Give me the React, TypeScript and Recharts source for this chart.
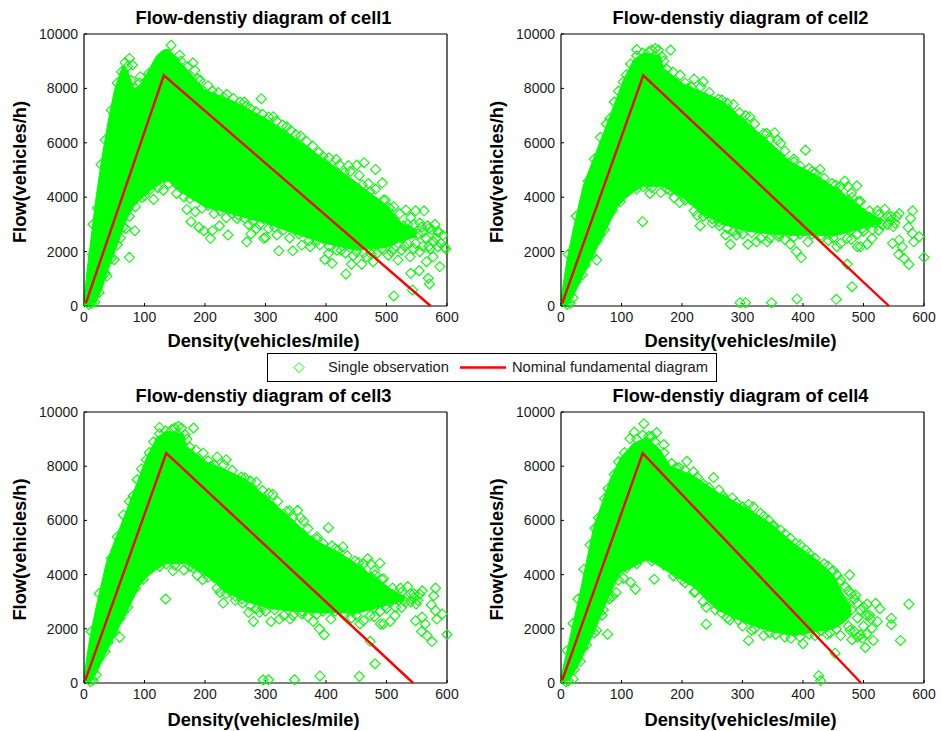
import React from "react";
import {
  ComposedChart,
  Area,
  Line,
  Scatter,
  XAxis,
  YAxis,
} from "recharts";

const xTicks = [0, 100, 200, 300, 400, 500, 600];
const yTicks = [0, 2000, 4000, 6000, 8000, 10000];

// solid part of the cloud, where the diamonds overlap completely
const cell1CoreX = [0, 5, 10, 20, 30, 40, 50, 60, 66, 72, 82, 90, 100, 110, 120, 130, 140, 150, 170, 200, 250, 300, 350, 400, 450, 500, 525, 550];
const cell1CoreHi = [200, 1300, 2200, 4000, 5500, 6800, 7900, 8600, 8850, 8650, 8000, 8050, 8400, 8800, 9200, 9400, 9450, 9200, 8700, 7950, 7500, 6900, 6150, 5350, 4550, 3700, 3050, 2800];
const cell1CoreLo = [0, 0, 0, 150, 650, 1350, 1950, 2550, 2950, 3250, 3650, 3850, 4050, 4250, 4400, 4550, 4600, 4350, 4050, 3650, 3350, 3050, 2650, 2300, 2050, 2150, 2400, 2550];

const cell2CoreX = [0, 5, 10, 20, 37, 70, 92, 103, 120, 136, 164, 169, 203, 236, 269, 307, 346, 379, 423, 456, 490, 510, 530];
const cell2CoreHi = [200, 1000, 1700, 2800, 4450, 6350, 7650, 8300, 9050, 9300, 9200, 8750, 8150, 7850, 7500, 6750, 6000, 5300, 4800, 4300, 3750, 3400, 3200];
const cell2CoreLo = [0, 0, 0, 350, 1150, 2600, 3600, 3900, 4200, 4400, 4400, 4400, 3950, 3350, 3000, 2750, 2650, 2600, 2600, 2600, 2800, 2950, 3050];

const cell4CoreX = [0, 5, 15, 31, 54, 81, 98, 120, 142, 164, 181, 219, 258, 307, 346, 385, 423, 451, 468, 480];
const cell4CoreHi = [200, 700, 1700, 3300, 5750, 7500, 8300, 8850, 9050, 8600, 8000, 7650, 7050, 6450, 5900, 5150, 4550, 3950, 3200, 2800];
const cell4CoreLo = [0, 0, 150, 750, 1850, 3300, 4050, 4300, 4550, 4300, 4050, 3550, 2700, 2200, 1900, 1750, 1900, 2000, 2250, 2500];

// single observations [density, flow] around the edge of the cloud
const cell1Obs: [number, number][] = [
  [75, 1790], [84, 2770], [38, 1100], [69, 2850], [512, 370], [543, 590], [569, 1020], [571, 810],
  [588, 1450], [596, 2160], [585, 2180], [433, 1180], [540, 1200], [554, 1300], [459, 1540], [442, 1540],
  [410, 1570], [398, 1710], [404, 1935], [345, 2030], [322, 2030], [269, 2360], [276, 2650], [238, 2610],
  [209, 2490], [224, 2950], [212, 2770], [198, 2760], [190, 2890], [177, 3100], [170, 3550], [184, 3470],
  [297, 2490], [300, 2520], [293, 7620], [482, 5020], [493, 4530], [463, 5270], [451, 5180], [437, 5160],
  [417, 5390], [378, 5880], [335, 6590], [313, 6960], [275, 7260], [247, 7630], [236, 7780], [212, 7910],
  [192, 8300], [180, 8940], [183, 8670], [158, 9220], [144, 9590], [75, 9100], [80, 8860], [62, 8610],
  [93, 8430], [107, 8550], [532, 3530], [548, 3500], [562, 3500], [495, 3900], [473, 4200], [115, 3920],
  [96, 3990], [131, 4260], [140, 4500], [153, 4140], [165, 4020], [253, 3220], [266, 3220], [280, 3100],
  [319, 2610], [360, 2240], [374, 2180], [467, 1810], [478, 1630], [503, 1870], [519, 1690], [539, 1810],
  [566, 1630], [577, 1810], [510, 3100], [518, 2800], [525, 2500], [530, 2200], [535, 3000], [542, 2700],
  [548, 2300], [555, 2000], [558, 2900], [565, 2500], [570, 2200], [575, 2800], [582, 2500], [590, 2300],
  [593, 2600], [598, 2100], [505, 2400], [512, 2100], [528, 2950], [552, 2650], [578, 2350], [586, 2700],
  [205, 3700], [225, 3500], [245, 3400], [290, 3000], [330, 2800], [385, 2400], [425, 2050], [450, 2000],
  [485, 1950], [265, 7500], [295, 7050], [350, 6300], [395, 5500], [430, 4900], [460, 4450], [505, 3600],
  [50, 1700], [60, 2500], [25, 500], [18, 150], [12, 100], [8, 60], [22, 3600], [14, 1900],
  [160, 9000], [172, 8800], [188, 8350], [205, 8100], [222, 7850], [232, 7650], [258, 7500], [268, 7350],
  [284, 7150], [305, 6950], [318, 6800], [328, 6650], [342, 6450], [358, 6250], [368, 6050], [388, 5650],
  [405, 5450], [422, 5200], [440, 4950], [455, 4800], [470, 4500], [482, 4300], [498, 3900], [512, 3650],
  [522, 3400], [540, 3250], [555, 3050], [570, 2850], [585, 2750], [15, 3000], [28, 5200], [35, 6100],
  [45, 7200], [55, 8200], [68, 8950], [72, 8800], [78, 8300], [85, 8000], [92, 8200], [35, 1200],
  [45, 1750], [55, 2250], [65, 2900], [75, 3300], [85, 3650], [100, 4050], [110, 4300], [122, 4350],
  [160, 4350], [175, 3950], [195, 3600], [215, 3400], [235, 3250], [255, 3350], [272, 3000], [285, 2850],
  [305, 2850], [315, 2900], [340, 2500], [355, 2650], [372, 2400], [390, 2250], [405, 2200], [418, 2050],
  [432, 1950], [445, 1850], [462, 1950], [475, 1900], [492, 2100], [508, 2000], [525, 2050], [535, 2300],
  [545, 2100], [560, 2200], [572, 2100], [520, 2700], [545, 3000], [560, 2700], [568, 2950], [580, 3000],
];

const cell2Obs: [number, number][] = [
  [135, 3100], [59, 1690], [65, 2610], [40, 1500], [296, 120], [305, 120], [348, 120], [390, 260],
  [455, 245], [481, 710], [473, 1540], [600, 1790], [575, 1530], [567, 1750], [558, 1900], [564, 2180],
  [583, 2360], [592, 2550], [581, 2670], [581, 3500], [578, 3220], [574, 2890], [548, 2300], [559, 2430],
  [535, 3560], [523, 3500], [559, 3400], [555, 3280], [531, 2980], [549, 2920], [506, 2270], [490, 2180],
  [495, 2180], [514, 2490], [498, 2850], [525, 2790], [509, 3280], [492, 3830], [489, 4420], [474, 4390],
  [469, 4590], [454, 4450], [456, 4200], [481, 3990], [456, 2180], [473, 2490], [445, 2670], [397, 1780],
  [389, 2000], [408, 2360], [379, 2270], [341, 2360], [323, 2360], [309, 2270], [280, 2270], [272, 2610],
  [290, 2610], [230, 2950], [225, 3340], [241, 3400], [261, 3100], [196, 3810], [187, 3980], [165, 4170],
  [147, 4140], [180, 4260], [136, 4390], [119, 4410], [98, 3830], [80, 3400], [181, 9410], [125, 9430],
  [150, 9410], [161, 9410], [156, 9470], [167, 9160], [197, 8490], [220, 8340], [235, 8240], [231, 8060],
  [266, 7570], [285, 7410], [312, 6960], [335, 6340], [353, 6370], [363, 5980], [404, 5730], [410, 5060],
  [428, 5020], [376, 5240], [103, 8240], [81, 6900], [500, 3400], [515, 3100], [505, 3000], [540, 3300],
  [545, 3150], [520, 3050], [485, 3300], [470, 3600], [440, 4300], [465, 3050], [480, 2800], [455, 2800],
  [175, 8700], [210, 8000], [255, 7400], [300, 6750], [345, 6100], [385, 5300], [420, 4900], [475, 3900],
  [215, 3900], [250, 3200], [295, 2800], [360, 2650], [430, 2600], [20, 300], [15, 100], [10, 60],
  [115, 8900], [125, 9200], [135, 9300], [145, 9350], [170, 9000], [185, 8600], [205, 8200], [215, 8050],
  [245, 7850], [260, 7600], [275, 7450], [295, 7100], [305, 7000], [320, 6700], [340, 6350], [358, 6100],
  [370, 5700], [385, 5400], [395, 5150], [415, 4950], [435, 4700], [448, 4500], [462, 4400], [480, 4150],
  [495, 3850], [510, 3500], [525, 3350], [545, 3300], [12, 1900], [25, 3300], [45, 4600], [55, 5400],
  [65, 6200], [75, 6700], [88, 7500], [95, 7900], [108, 8500], [25, 900], [35, 1150], [50, 1900],
  [60, 2400], [72, 2800], [85, 3500], [95, 3900], [108, 4250], [125, 4300], [150, 4350], [175, 4300],
  [205, 3900], [220, 3500], [235, 3300], [250, 3050], [262, 2950], [275, 2850], [285, 2750], [300, 2650],
  [315, 2700], [330, 2500], [345, 2500], [360, 2550], [370, 2450], [385, 2550], [395, 2650], [415, 2650],
  [430, 2500], [442, 2400], [450, 2500], [462, 2300], [480, 2450], [490, 2650], [500, 2750], [515, 2800],
  [528, 3050], [540, 3000], [552, 3050],
];

const cell4Obs: [number, number][] = [
  [575, 2910], [546, 2390], [546, 2150], [561, 1570], [516, 1570], [503, 1310], [523, 2270], [514, 2020],
  [527, 2740], [520, 2940], [506, 2910], [512, 2370], [495, 1780], [481, 1600], [487, 3250], [477, 3990],
  [426, 270], [429, 90], [453, 1100], [400, 1450], [310, 1570], [240, 2170], [279, 2330], [293, 2330],
  [261, 2910], [222, 3370], [211, 3860], [186, 3950], [154, 3830], [123, 3460], [115, 3720], [103, 3870],
  [91, 3340], [78, 3190], [77, 1800], [59, 1940], [48, 1930], [441, 4320], [456, 3990], [410, 4790],
  [379, 5340], [363, 5640], [310, 6590], [330, 6260], [343, 6010], [283, 6830], [252, 7580], [261, 7120],
  [208, 8180], [219, 7790], [183, 8100], [158, 9240], [137, 9570], [121, 9260], [114, 9020], [95, 8160],
  [78, 7180], [56, 5710], [470, 3000], [480, 2700], [490, 2400], [500, 2100], [475, 2100], [485, 1900],
  [465, 2400], [455, 2000], [440, 1800], [420, 1750], [395, 1700], [370, 1700], [345, 1850], [320, 2000],
  [495, 2700], [505, 2500], [470, 3550], [460, 3700], [490, 2950], [450, 4150], [395, 5100], [350, 5800],
  [300, 6500], [270, 6800], [235, 7350], [195, 7950], [170, 8800], [150, 9100], [20, 150], [12, 80],
  [8, 50], [25, 900], [36, 1300], [70, 2700], [85, 3200], [200, 3800], [235, 3000], [265, 2600],
  [125, 9000], [135, 9150], [145, 9100], [155, 8900], [170, 8500], [190, 7950], [205, 7850], [225, 7600],
  [245, 7200], [268, 6900], [290, 6650], [318, 6500], [335, 6150], [352, 5800], [370, 5500], [388, 5150],
  [405, 4900], [420, 4600], [435, 4400], [448, 4100], [462, 3800], [475, 3400], [485, 3100], [500, 2800],
  [10, 1200], [20, 2200], [28, 3100], [38, 4200], [48, 5100], [62, 6100], [72, 6800], [88, 7700],
  [105, 8500], [22, 500], [32, 800], [42, 1400], [55, 1850], [68, 2500], [80, 3100], [95, 3800],
  [108, 4250], [125, 4400], [150, 4500], [170, 4350], [190, 4050], [205, 3700], [220, 3350], [240, 2800],
  [255, 2700], [275, 2400], [300, 2100], [315, 1950], [335, 1750], [355, 1800], [380, 1650], [410, 1800],
  [430, 1950], [445, 1850], [462, 1750], [478, 1950], [490, 1700], [498, 1650], [505, 1800], [510, 2500],
  [480, 3300],
];

const cell1LineX = [3, 132, 573];
const cell1LineY = [100, 8480, 0];
const cell2LineX = [2, 136, 542];
const cell2LineY = [100, 8480, 0];
const cell3LineX = [2, 136, 544];
const cell3LineY = [100, 8480, 0];
const cell4LineX = [2, 135, 496];
const cell4LineY = [100, 8480, 0];

const GREEN = "#00ff00";
const RED = "#ff0000";
const FONT = "'Liberation Sans', Arial, sans-serif";

function DiamondMark(props: any) {
  const { cx, cy } = props;
  return (
    <path
      d={`M${cx - 5} ${cy}L${cx} ${cy - 5}L${cx + 5} ${cy}L${cx} ${cy + 5}Z`}
      fill="none"
      stroke={GREEN}
      strokeWidth={1.1}
    />
  );
}

type PanelProps = {
  title: string;
  coreX: number[];
  coreHi: number[];
  coreLo: number[];
  obs: [number, number][];
  lineX: number[];
  lineY: number[];
  left: number;
  top: number;
  width: number;
  height: number;
  plot: { l: number; r: number; t: number; b: number };
};

function Panel({ title, coreX, coreHi, coreLo, obs, lineX, lineY, left, top, width, height, plot }: PanelProps) {
  const coreRows = coreX.map((x, i) => ({ x, band: [coreLo[i], coreHi[i]] }));
  const obsRows = obs.map(([x, y]) => ({ x, y }));
  const lineRows = lineX.map((x, i) => ({ x, y: lineY[i] }));

  const axisLine = { stroke: "#000", strokeWidth: 1.2 };
  const tickLine = { stroke: "#000", strokeWidth: 1 };
  const tickFont = { fontSize: 14, fill: "#1a1a1a", fontFamily: FONT };
  const labelFont = { fontSize: 18.3, fontWeight: 700, fill: "#000", fontFamily: FONT };

  return (
    <div style={{ position: "absolute", left, top }}>
      <ComposedChart width={width} height={height} margin={{ top: 0, right: 0, bottom: 0, left: 0 }}>
        <XAxis
          dataKey="x"
          type="number"
          domain={[0, 600]}
          ticks={xTicks}
          height={plot.b}
          interval={0}
          tickSize={-3}
          tickMargin={9}
          axisLine={axisLine}
          tickLine={tickLine}
          tick={tickFont}
          label={{ value: "Density(vehicles/mile)", position: "insideBottom", offset: 5, dx: -2, ...labelFont }}
        />
        <XAxis
          xAxisId="top"
          orientation="top"
          dataKey="x"
          type="number"
          domain={[0, 600]}
          ticks={xTicks}
          height={plot.t}
          interval={0}
          tickSize={-3}
          axisLine={axisLine}
          tickLine={tickLine}
          tick={false}
          label={{ value: title, position: "insideBottom", offset: 10.5, dx: -2, ...labelFont }}
        />
        <YAxis
          type="number"
          domain={[0, 10000]}
          ticks={yTicks}
          width={plot.l}
          interval={0}
          tickSize={-3}
          tickMargin={9}
          axisLine={axisLine}
          tickLine={tickLine}
          tick={tickFont}
          label={{ value: "Flow(vehicles/h)", angle: -90, position: "insideLeft", offset: plot.l - 64, dy: 2, style: { textAnchor: "middle" }, ...labelFont }}
        />
        <YAxis
          yAxisId="right"
          orientation="right"
          type="number"
          domain={[0, 10000]}
          ticks={yTicks}
          width={plot.r}
          interval={0}
          tickSize={-3}
          axisLine={axisLine}
          tickLine={tickLine}
          tick={false}
        />
        <Area
          data={coreRows}
          dataKey="band"
          type="linear"
          stroke={GREEN}
          strokeWidth={1}
          fill={GREEN}
          fillOpacity={1}
          dot={false}
          isAnimationActive={false}
        />
        <Scatter data={obsRows} dataKey="y" shape={DiamondMark} isAnimationActive={false} />
        <Line
          data={lineRows}
          dataKey="y"
          type="linear"
          stroke={RED}
          strokeWidth={2.4}
          dot={false}
          isAnimationActive={false}
          zIndex={700}
        />
      </ComposedChart>
    </div>
  );
}

function LegendBox() {
  return (
    <div
      style={{
        position: "absolute",
        left: 267,
        top: 353,
        width: 448,
        height: 27,
        border: "1px solid #000",
        background: "#fff",
        fontFamily: FONT,
        fontSize: 14.7,
        color: "#1a1a1a",
        zIndex: 5,
      }}
    >
      <svg width={448} height={27} style={{ position: "absolute", left: 0, top: 0 }}>
        <path d="M26 13.5L31 8.5L36 13.5L31 18.5Z" fill="none" stroke={GREEN} strokeWidth={1} />
        <line x1={192} x2={238} y1={13.5} y2={13.5} stroke={RED} strokeWidth={2.4} />
      </svg>
      <span style={{ position: "absolute", left: 60, top: 5 }}>Single observation</span>
      <span style={{ position: "absolute", left: 244, top: 5 }}>Nominal fundamental diagram</span>
    </div>
  );
}

export default function App() {
  return (
    <div style={{ position: "absolute", left: 0, top: 0, width: 941, height: 731, background: "#fff" }}>
      <Panel title="Flow-denstiy diagram of cell1" coreX={cell1CoreX} coreHi={cell1CoreHi} coreLo={cell1CoreLo} obs={cell1Obs} lineX={cell1LineX} lineY={cell1LineY}
        left={0} top={0} width={470} height={352} plot={{ l: 84, r: 23, t: 34, b: 46 }} />
      <Panel title="Flow-denstiy diagram of cell2" coreX={cell2CoreX} coreHi={cell2CoreHi} coreLo={cell2CoreLo} obs={cell2Obs} lineX={cell2LineX} lineY={cell2LineY}
        left={470} top={0} width={470} height={352} plot={{ l: 91, r: 16, t: 34, b: 46 }} />
      <Panel title="Flow-denstiy diagram of cell3" coreX={cell2CoreX} coreHi={cell2CoreHi} coreLo={cell2CoreLo} obs={cell2Obs} lineX={cell3LineX} lineY={cell3LineY}
        left={0} top={345} width={470} height={386} plot={{ l: 84, r: 23, t: 67, b: 48 }} />
      <Panel title="Flow-denstiy diagram of cell4" coreX={cell4CoreX} coreHi={cell4CoreHi} coreLo={cell4CoreLo} obs={cell4Obs} lineX={cell4LineX} lineY={cell4LineY}
        left={470} top={345} width={470} height={386} plot={{ l: 91, r: 16, t: 67, b: 48 }} />
      <LegendBox />
    </div>
  );
}
